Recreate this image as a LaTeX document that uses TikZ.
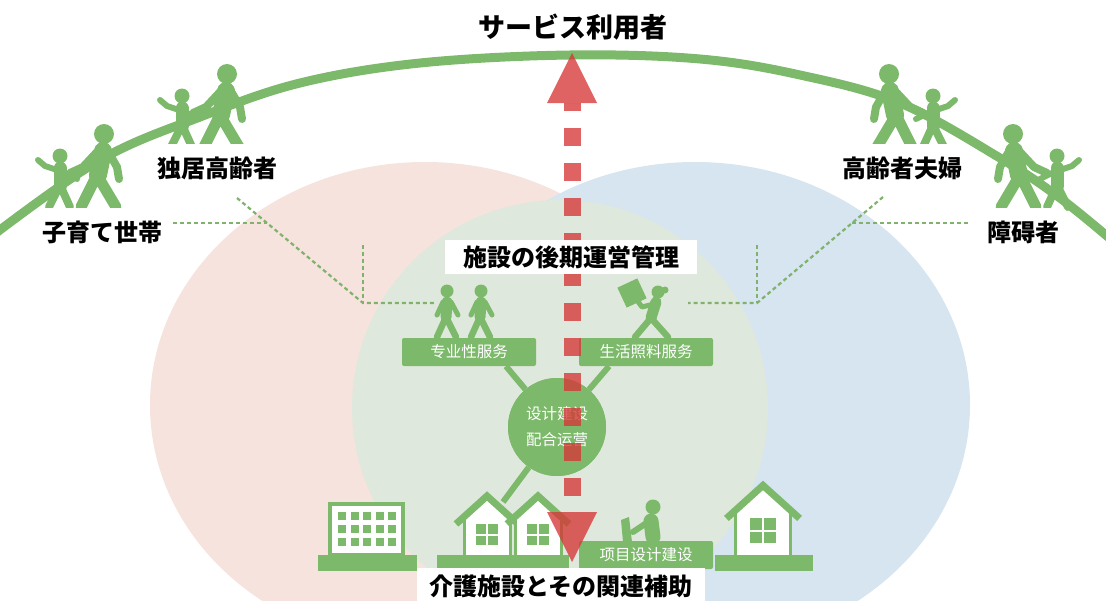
\documentclass[tikz,border=0pt]{standalone}
\usepackage{fontspec}
\usepackage{xcolor}
\usepackage{tikz}
\usetikzlibrary{calc, positioning}
\newfontfamily\jpfont{Noto Sans CJK JP}
\newfontfamily\scfont{Noto Sans CJK SC}
\definecolor{leafgreen}{RGB}{124,185,106}
\definecolor{guidegreen}{RGB}{128,178,110}
\definecolor{pinkzone}{RGB}{246,227,221}
\definecolor{bluezone}{RGB}{214,229,240}
\definecolor{corezone}{RGB}{223,232,220}
\definecolor{flowred}{RGB}{214,55,55}
\tikzset{
  who/.style={
    fill=white, inner xsep=3pt, inner ysep=0pt, minimum height=48pt,
    font=\jpfont\bfseries\fontsize{24}{24}\selectfont
  },
  tier/.style={
    fill=white, inner xsep=18pt, inner ysep=0pt, minimum height=34pt,
    font=\jpfont\bfseries\fontsize{24}{24}\selectfont
  },
  svc/.style={
    rectangle, rounded corners=2pt, fill=leafgreen, text=white,
    minimum width=134pt, minimum height=28pt, inner sep=0pt,
    font=\scfont\fontsize{15.5}{15.5}\selectfont
  },
  hubnode/.style={
    circle, fill=leafgreen, text=white, minimum size=98pt, inner sep=0pt,
    align=center, font=\scfont\fontsize{15.5}{26}\selectfont
  },
  link/.style={leafgreen, line width=6pt},
  guide/.style={guidegreen, line width=2.2pt, dash pattern=on 4pt off 3pt},
  limb/.style={leafgreen, line cap=round, line join=round},
  adult/.pic={
    \fill[leafgreen] (4,-73) circle (10);
    \draw[limb, line width=18pt] (3,-56) -- (-2,-32);
    \draw[limb, line width=11pt] (-19,0) -- (-3,-32) -- (16,0);
    \draw[limb, line width=8pt] (-3,-55) -- (-17,-40) -- (-30,-34);
    \draw[limb, line width=8pt] (9,-54) -- (17,-40) -- (19,-28);
  },
  kid/.pic={
    \fill[leafgreen] (0,-51) circle (7.5);
    \draw[limb, line width=13pt] (0,-39) -- (0,-21);
    \draw[limb, line width=8pt] (-11,0) -- (0,-22) -- (10,0);
    \draw[limb, line width=6pt] (-3,-37) -- (-15,-41) -- (-22,-47);
    \draw[limb, line width=6pt] (3,-35) -- (17,-28);
  },
  walker/.pic={
    \fill[leafgreen] (0,-46) circle (6.5);
    \draw[limb, line width=11pt] (0,-35) -- (-1,-20);
    \draw[limb, line width=6.5pt] (-10,0) -- (-1,-20) -- (9,0);
    \draw[limb, line width=5pt] (-4,-35) -- (-10,-22) (4,-35) -- (11,-22);
  },
  porter/.pic={
    \fill[leafgreen] (4,-45) circle (6.5);
    \fill[leafgreen] (11,-47) circle (3.5);
    \draw[limb, line width=11pt] (2,-35) -- (-3,-19);
    \draw[limb, line width=6.5pt] (-19,0) -- (-3,-19) -- (14,0);
    \draw[limb, line width=5pt] (0,-33) -- (-12,-30) -- (-18,-38);
    \fill[leafgreen, rotate around={25:(-22,-44)}] (-33,-55) rectangle (-11,-33);
  },
  worker/.pic={
    \fill[leafgreen] (8,-35) circle (7.5);
    \draw[limb, line width=15pt] (6,-21) -- (8,-5);
    \draw[limb, line width=6pt] (3,-20) -- (-12,-10);
    \fill[leafgreen] (-24,-22) -- (-16,-25) -- (-13,0) -- (-22,0) -- cycle;
  },
  home/.pic={
    \fill[white] (-24,0) -- (-24,-36) -- (0,-58) -- (24,-36) -- (24,0) -- cycle;
    \draw[leafgreen, line width=3pt] (-23,0) -- (-23,-38) (23,0) -- (23,-38);
    \draw[leafgreen, line width=7pt, line join=miter] (-31,-31) -- (0,-59) -- (31,-31);
    \fill[leafgreen] (-11,-10) rectangle (11,-31);
    \draw[white, line width=2pt] (0,-10) -- (0,-31) (-11,-20.5) -- (11,-20.5);
  },
}

\begin{document}
\begin{tikzpicture}[x=1pt, y=-1pt]
  \useasboundingbox (0,0) rectangle (1106,600);

  % user groups and the core zone
  \fill[pinkzone] (425,405) ellipse (275 and 243);
  \fill[bluezone] (695,405) ellipse (275 and 243);
  \fill[corezone] (560,408) circle (208);

  \draw[guide] (237,198) -- (363,303) -- (435,303);
  \draw[guide] (173,223) -- (267,223);
  \draw[guide] (363,245) -- (363,303);
  \draw[guide] (883,197) -- (757,303) -- (688,303);
  \draw[guide] (852,223) -- (970,223);
  \draw[guide] (757,245) -- (757,303);

  % the arch with the walking people
  \draw[leafgreen, line width=9pt] plot[smooth, tension=0.6] coordinates {
    (-8,236) (100,160) (200,117) (300,83) (420,63) (570,55)
    (700,59) (800,75) (900,103) (1000,158) (1060,198) (1114,242)};
  \pic at (60,207) {kid};
  \pic at (100,207) {adult};
  \pic at (182,147) {kid};
  \pic at (223,147) {adult};
  \pic[xscale=-1] at (893,147) {adult};
  \pic[xscale=-1] at (933,147) {kid};
  \pic[xscale=-1] at (1017,207) {adult};
  \pic[xscale=-1] at (1057,207) {kid};

  % services around the hub
  \node[svc] (pro) at (469,352) {专业性服务};
  \node[svc] (care) at (646,352) {生活照料服务};
  \node[svc] (build) at (646,555) {项目设计建设};
  \pic at (447,337) {walker};
  \pic at (481,337) {walker};
  \pic at (654,337) {porter};
  \pic at (645,542) {worker};

  \coordinate (roofjoint) at (503,502);
  \node[hubnode] (hub) at (557,427) {};
  \draw[link] (hub) -- ($(pro.south)!.55!(pro.south east)$);
  \draw[link] (hub) -- ($(care.south)!.55!(care.south west)$);
  \draw[link] (hub.235) -- (roofjoint);
  \node[hubnode] (hub) at (557,427) {设计建设\\配合运营};

  % facilities
  \draw[leafgreen, line width=4pt, fill=white] (330,504) rectangle (403,555);
  \foreach \c in {0,...,4}
    \foreach \r in {0,1,2}
      \fill[leafgreen] ({338+12.5*\c},{512+13*\r}) rectangle ++(8,8);
  \fill[leafgreen] (318,555) rectangle (417,571);
  \pic at (487,555) {home};
  \pic at (538,555) {home};
  \fill[leafgreen] (437,555) rectangle (569,568);
  \pic[scale=1.18] at (763,555) {home};
  \fill[leafgreen] (715,555) rectangle (813,571);

  % management flow
  \coordinate (apex) at (572,53);
  \coordinate (nadir) at (572,562);
  \begin{scope}[opacity=.78]
    \draw[flowred, line width=17pt, dash pattern=on 18pt off 17pt, dash phase=10pt]
      ($(apex)+(0,50)$) -- ($(nadir)+(0,-50)$);
    \fill[flowred] (apex) -- ++(-25,50) -- ++(50,0) -- cycle;
    \fill[flowred] (nadir) -- ++(-25,-50) -- ++(50,0) -- cycle;
  \end{scope}

  \node[font=\jpfont\bfseries\fontsize{27}{27}\selectfont] (users) at (573,27) {サービス利用者};
  \node[who] (single) at (217,168) {独居高齢者};
  \node[who] (family) at (102,232) {子育て世帯};
  \node[who] (couple) at (902,168) {高齢者夫婦};
  \node[who] (disab) at (1023,232) {障碍者};
  \node[tier] (manage) at (571,257) {施設の後期運営管理};
  \node[tier, inner xsep=12pt, minimum height=36pt] (facility) at (561,586) {介護施設とその関連補助};
\end{tikzpicture}
\end{document}
